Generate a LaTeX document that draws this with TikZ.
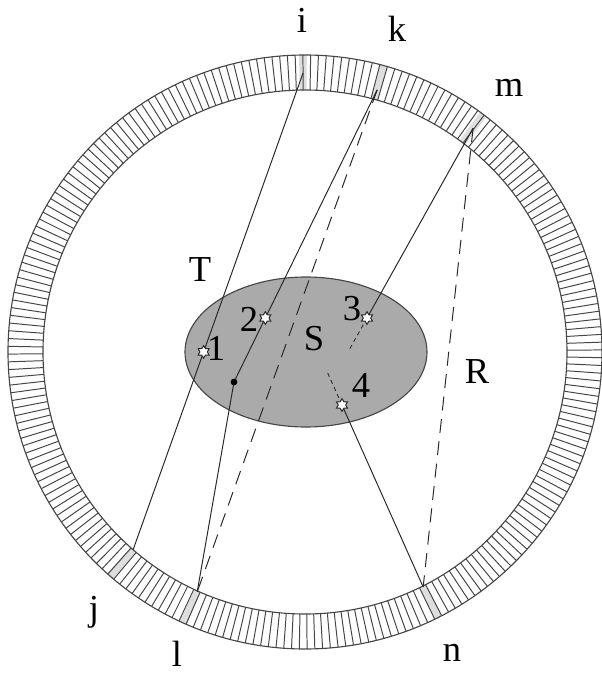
\documentclass[tikz,border=0pt]{standalone}
\usepackage{fontspec}
\setmainfont{Liberation Serif}
\usepackage{xcolor}
\definecolor{ringgray}{RGB}{70,70,70}
\definecolor{cellgray}{RGB}{222,222,222}
\definecolor{regiongray}{RGB}{170,170,170}
\definecolor{raygray}{RGB}{40,40,40}
\usetikzlibrary{calc, shapes.geometric}

\begin{document}
\begin{tikzpicture}[x=0.025cm, y=0.025cm, font=\fontsize{26}{28}\selectfont]

% === Estilos ===
\tikzset{
    ray/.style={line width=0.7pt, raygray},
    dashray/.style={ray, dash pattern=on 10pt off 6pt},
    shortdash/.style={ray, line width=0.6pt, dash pattern=on 3pt off 2.5pt},
    hatch/.style={line width=0.7pt, ringgray},
    detector/.style={star, star points=6, star point ratio=1.7, draw=raygray,
        fill=white, line width=0.7pt, minimum size=9pt, inner sep=0pt},
    lbl/.style={inner sep=0pt}
}

\useasboundingbox (-305,-321) rectangle (296,352);

% === Parámetros ===
\def\Rout{297}     % radio exterior del anillo
\def\Rin{262}      % radio interior del anillo
\def\dA{0.75}      % media anchura angular de una celda

% === Celdas activadas del anillo ===
\foreach \a in {90.4, 74.6, 53.1, 229, 245.8, 296.7} {
    \fill[cellgray] ({\a-\dA}:\Rin) arc ({\a-\dA}:{\a+\dA}:\Rin)
        -- ({\a+\dA}:\Rout) arc ({\a+\dA}:{\a-\dA}:\Rout) -- cycle;
}

% === Anillo de detectores ===
\foreach \k in {0,...,239}
    \draw[hatch] ({\k*1.5+0.4}:\Rin) -- ({\k*1.5+0.4}:\Rout);
\draw[hatch, line width=0.8pt] (0,0) circle (\Rout);
\draw[hatch, line width=0.8pt] (0,0) circle (\Rin);

% === Región S ===
\filldraw[fill=regiongray, draw=ringgray, line width=0.8pt] (1,0) ellipse (121 and 75);

% === Extremos en el anillo ===
\coordinate (i) at (90.4:279);
\coordinate (k) at (74.6:272);
\coordinate (m) at (53.1:280);
\coordinate (j) at (229:262);
\coordinate (l) at (245.8:263);
\coordinate (n) at (296.7:263);

% === Puntos interiores ===
\coordinate (kink) at (-71,-30);
\coordinate (p1) at ($(i)!0.585!(j)$);
\coordinate (p2) at ($(k)!0.781!(kink)$);
\coordinate (p3) at (62,34);
\coordinate (p4) at (37,-53);

% === Rayos ===
\draw[ray] (i) -- (j);
\draw[ray] (k) -- (p2) -- (kink) -- (l);
\draw[dashray] (k) -- (l);
\draw[ray] (m) -- (p3);
\draw[shortdash] (p3) -- ($(m)!1.17!(p3)$);
\draw[dashray] (m) -- (n);
\draw[ray] (n) -- (p4);
\draw[shortdash] (p4) -- ($(n)!1.18!(p4)$);

% === Puntos (estrellas y punto negro) ===
\node[detector] (s1) at (p1) {};
\node[detector] (s2) at (p2) {};
\node[detector] (s3) at (p3) {};
\node[detector] (s4) at (p4) {};
\fill[black] (kink) circle (3.4);

% === Etiquetas ===
\node[lbl] (lbl-i) at (-3,332) {i};
\node[lbl] (lbl-k) at (92,323) {k};
\node[lbl] (lbl-m) at (204,264) {m};
\node[lbl] (lbl-j) at (-211,-260) {j};
\node[lbl] (lbl-l) at (-128,-302) {l};
\node[lbl] (lbl-n) at (147,-301) {n};
\node[lbl] (lbl-T) at (-105,82) {T};
\node[lbl] (lbl-R) at (172,-20) {R};
\node[lbl] (lbl-S) at (9,13) {S};
\node[lbl] (lbl-1) at (-89,4) {1};
\node[lbl] (lbl-2) at (-56,33) {2};
\node[lbl] (lbl-3) at (47,43) {3};
\node[lbl] (lbl-4) at (56,-33) {4};

\end{tikzpicture}
\end{document}
